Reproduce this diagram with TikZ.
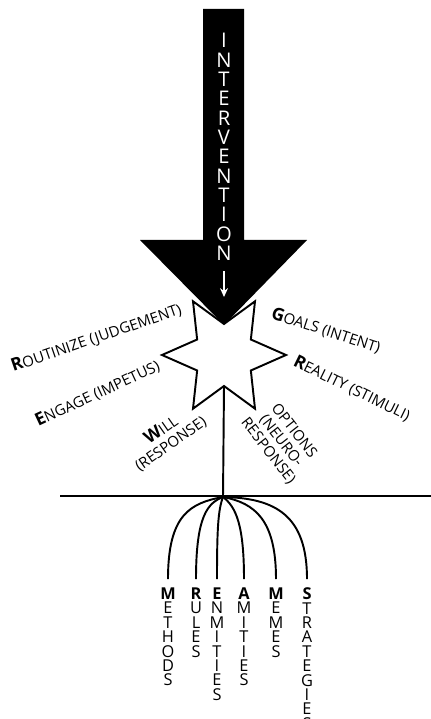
\documentclass[tikz,border=0pt]{standalone}
\usepackage{fontspec}
\setmainfont{Open Sans}
\usepackage{tikz}
\usetikzlibrary{arrows.meta}
\newcommand{\firstcap}[1]{{\fontsize{10}{10}\selectfont\bfseries #1}}

\begin{document}
\begin{tikzpicture}[x=0.02cm, y=-0.02cm,
    etichetta/.style={font=\fontsize{8.5}{9.3}\selectfont, inner sep=0pt},
    radice/.style={font=\fontsize{9.3}{8.2}\selectfont, align=center, inner sep=0pt, outer sep=5pt, anchor=north},
    linea/.style={line width=1.1pt}]
  \useasboundingbox (0,0) rectangle (431,719);
  % Freccia di intervento
  \fill (203,9) -- (244,9) -- (244,240) -- (307,240) -- (224,325) -- (140,240) -- (203,240) -- cycle;
  \node[font=\fontsize{11.5}{11}\selectfont, text=white, align=center, inner sep=0pt] (parola) at (224,147)
    {I\\N\\T\\E\\R\\V\\E\\N\\T\\I\\O\\N};
  \coordinate (punta) at (224,297);
  \draw[white, line width=0.8pt, -{Stealth[length=5pt,width=4.5pt]}] ([yshift=-6pt]parola.south) -- (punta);
  % Stella a sei punte
  \coordinate (stella) at (224,355);
  \draw[linea, fill=white, shift={(stella)}]
    (0:62) \foreach \k in {1,...,11}{ -- (\k*30:{62-31*mod(\k,2)}) } -- cycle;
  % Etichette intorno alla stella
  \node[etichetta, rotate=19, anchor=base west] (routinize) at (13,372) {\firstcap{R}OUTINIZE (JUDGEMENT)};
  \node[etichetta, rotate=25, anchor=base west] (engage) at (38,427) {\firstcap{E}NGAGE (IMPETUS)};
  \node[etichetta, rotate=35, align=center] (will) at (166,437) {\firstcap{W}ILL\\(RESPONSE)};
  \node[etichetta, rotate=-18, anchor=base west] (goals) at (270,318) {\firstcap{G}OALS (INTENT)};
  \node[etichetta, rotate=-26, anchor=base west] (reality) at (292,365) {\firstcap{R}EALITY (STIMULI)};
  \node[etichetta, rotate=-52, align=center] (options) at (281,441) {OPTIONS\\(NEURO-\\RESPONSE)};
  % Stelo e suolo
  \coordinate (gambo) at (224,386);
  \coordinate (fan) at (223,497);
  \coordinate (suoloa) at (60,496);
  \coordinate (suolob) at (431,496);
  \draw[linea] (suoloa) -- (suolob);
  \draw[linea] (gambo) -- (fan);
  % Radici
  \node[radice] (methods) at (168,579) {\textbf{M}\\E\\T\\H\\O\\D\\S};
  \node[radice] (rules) at (196,579) {\textbf{R}\\U\\L\\E\\S};
  \node[radice] (enmities) at (217,579) {\textbf{E}\\N\\M\\I\\T\\I\\E\\S};
  \node[radice] (amities) at (244,579) {\textbf{A}\\M\\I\\T\\I\\E\\S};
  \node[radice] (memes) at (276,579) {\textbf{M}\\E\\M\\E\\S};
  \node[radice] (strategies) at (307,579) {\textbf{S}\\T\\R\\A\\T\\E\\G\\I\\E\\S};
  \draw[linea] (fan) .. controls (190,503) and (168,515) .. (methods.north);
  \draw[linea] (fan) .. controls (208,503) and (196,515) .. (rules.north);
  \draw[linea] (fan) .. controls (218,510) and (217,530) .. (enmities.north);
  \draw[linea] (fan) .. controls (236,507) and (244,525) .. (amities.north);
  \draw[linea] (fan) .. controls (255,503) and (276,520) .. (memes.north);
  \draw[linea] (fan) .. controls (275,498) and (307,515) .. (strategies.north);
\end{tikzpicture}
\end{document}
